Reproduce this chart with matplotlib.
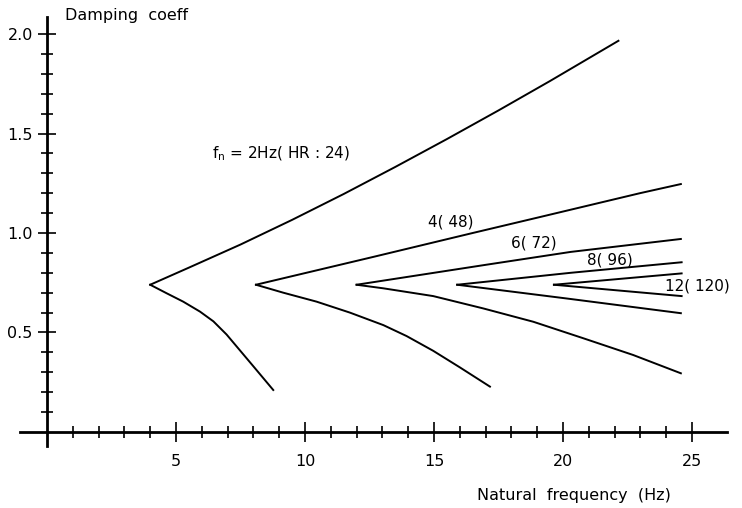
import matplotlib
matplotlib.use("Agg")
import matplotlib.pyplot as plt
from matplotlib.ticker import FixedLocator

# ---- data ----
hz2_up_x = [4.0, 5.5, 7.5, 9.5, 11.5, 13.5, 15.5, 17.5, 19.5, 22.15]
hz2_up_y = [0.74, 0.826, 0.942, 1.066, 1.196, 1.332, 1.472, 1.616, 1.764, 1.966]
hz2_lo_x = [4.0, 4.64, 5.28, 5.93, 6.45, 6.96, 7.48, 8.0, 8.77]
hz2_lo_y = [0.74, 0.697, 0.655, 0.605, 0.556, 0.49, 0.41, 0.33, 0.211]

hz4_up_x = [8.1, 12.65, 16.5, 19.1, 22.98, 24.57]
hz4_up_y = [0.74, 0.88, 1.0, 1.08, 1.20, 1.246]
hz4_lo_x = [8.1, 9.16, 10.45, 11.74, 13.04, 13.94, 14.97, 16.0, 17.17]
hz4_lo_y = [0.74, 0.70, 0.655, 0.60, 0.537, 0.482, 0.408, 0.325, 0.228]

hz6_up_x = [12.0, 14.5, 17.0, 20.3, 24.57]
hz6_up_y = [0.74, 0.79, 0.84, 0.905, 0.97]
hz6_lo_x = [12.0, 13.04, 14.97, 16.91, 18.85, 20.79, 22.72, 24.57]
hz6_lo_y = [0.74, 0.722, 0.683, 0.621, 0.554, 0.471, 0.387, 0.295]

hz8_up_x = [15.9, 20.3, 24.6]
hz8_up_y = [0.74, 0.80, 0.853]
hz8_lo_x = [15.9, 20.14, 24.57]
hz8_lo_y = [0.74, 0.671, 0.597]

hz12_up_x = [19.65, 24.6]
hz12_up_y = [0.74, 0.797]
hz12_lo_x = [19.65, 24.6]
hz12_lo_y = [0.74, 0.683]

x_major = [5, 10, 15, 20, 25]
x_major_labels = ["5", "10", "15", "20", "25"]
y_major = [0.5, 1.0, 1.5, 2.0]
y_major_labels = ["0.5", "1.0", "1.5", "2.0"]

curve_labels = [r"f$_{\mathregular{n}}$ = 2Hz( HR : 24)", "4( 48)", "6( 72)", "8( 96)", "12( 120)"]
label_x = [6.38, 14.78, 18.0, 20.92, 23.95]
label_y = [1.40, 1.057, 0.948, 0.864, 0.734]

# ---- figure ----
plt.rcParams['font.family'] = ['DejaVu Sans']
fig = plt.figure(figsize=(7.42, 5.08), dpi=100)
ax = fig.add_axes([0, 0, 1, 1])
ax.set_xlim(-1.822, 26.94)
ax.set_ylim(-0.382, 2.171)
ax.patch.set_visible(False)

lw = 1.4
for xs, ys in [(hz2_up_x, hz2_up_y), (hz2_lo_x, hz2_lo_y),
               (hz4_up_x, hz4_up_y), (hz4_lo_x, hz4_lo_y),
               (hz6_up_x, hz6_up_y), (hz6_lo_x, hz6_lo_y),
               (hz8_up_x, hz8_up_y), (hz8_lo_x, hz8_lo_y),
               (hz12_up_x, hz12_up_y), (hz12_lo_x, hz12_lo_y)]:
    ax.plot(xs, ys, color="black", lw=lw, solid_joinstyle="round")

for t, x, y in zip(curve_labels, label_x, label_y):
    ax.text(x, y, t, fontsize=11, ha="left", va="center")

# axes spines through origin
for s in ["top", "right"]:
    ax.spines[s].set_visible(False)
ax.spines["left"].set_position(("data", 0))
ax.spines["bottom"].set_position(("data", 0))
ax.spines["left"].set_bounds(-0.07, 2.085)
ax.spines["bottom"].set_bounds(-1.05, 26.36)
ax.spines["left"].set_linewidth(2.0)
ax.spines["bottom"].set_linewidth(2.0)

ax.xaxis.set_major_locator(FixedLocator(x_major))
ax.set_xticklabels(x_major_labels)
ax.xaxis.set_minor_locator(FixedLocator([v for v in range(1, 26) if v % 5 != 0]))
ax.yaxis.set_major_locator(FixedLocator(y_major))
ax.set_yticklabels(y_major_labels)
ax.yaxis.set_minor_locator(FixedLocator([round(0.1 * i, 1) for i in range(1, 21) if i % 5 != 0]))

ax.tick_params(axis="x", which="major", direction="inout", length=14.5, width=1.2,
               pad=8.5, labelsize=11.5)
ax.tick_params(axis="x", which="minor", direction="inout", length=9.0, width=1.2)
ax.tick_params(axis="y", which="major", direction="inout", length=13.5, width=1.2,
               pad=3.5, labelsize=11.5)
ax.tick_params(axis="y", which="minor", direction="inout", length=8.0, width=1.2)

ax.text(0.7, 2.095, "Damping  coeff", fontsize=11.5, ha="left", va="center")
ax.text(16.65, -0.317, "Natural  frequency  (Hz)", fontsize=11.5, ha="left", va="center")

fig.savefig("out.png", dpi=100)
